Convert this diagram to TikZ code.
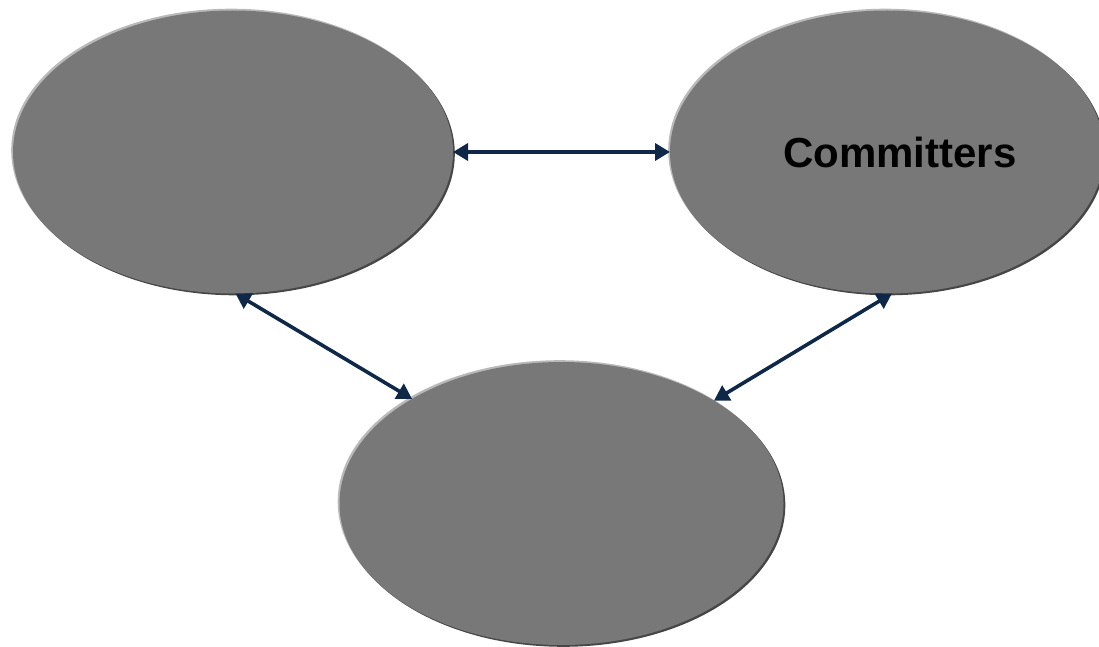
\documentclass[tikz,border=0pt]{standalone}
\usepackage{fontspec}
\setmainfont{Liberation Sans}
\usepackage{tikz}
\usetikzlibrary{arrows.meta}
\usetikzlibrary{shapes.geometric}
\usetikzlibrary{shadows}

\definecolor{bubblegray}{RGB}{120,120,120}
\definecolor{rimlight}{RGB}{185,185,185}
\definecolor{rimdark}{RGB}{70,70,70}
\definecolor{linknavy}{RGB}{16,40,72}

\begin{document}
\begin{tikzpicture}[
	x=1pt,
	y=-1pt,
	bubble/.style={
		ellipse,
		fill=bubblegray,
		inner sep=0pt,
		outer sep=0pt,
		minimum width=444pt,
		minimum height=283pt,
		general shadow={shadow xshift=-1.8pt, shadow yshift=1.8pt, fill=rimlight},
		general shadow={shadow xshift=1.8pt, shadow yshift=-1.8pt, fill=rimdark}
		},
	link/.style={
		draw=linknavy,
		line width=3.6pt,
		{Triangle[length=15pt,width=17pt]}-{Triangle[length=15pt,width=17pt]}
	},
	every node/.style={font=\bfseries\fontsize{42}{50}\selectfont}
]
\useasboundingbox (0,0) rectangle (1099,647);

% Bubbles
\node [bubble, minimum width=440pt] (Top Left) at (233,152) {};
\node [bubble, minimum width=434pt] (Top Right) at (887,152) {\hspace*{26pt}Committers};
\node [bubble] (Bottom) at (561.5,503.5) {};

% Links
\draw [link] (Top Left.east) -- (Top Right.west);
\draw [link] (Top Left.-89) -- (Bottom.145.7);
\draw [link] (Top Right.-88.7) -- (Bottom.34.2);

\end{tikzpicture}
\end{document}
